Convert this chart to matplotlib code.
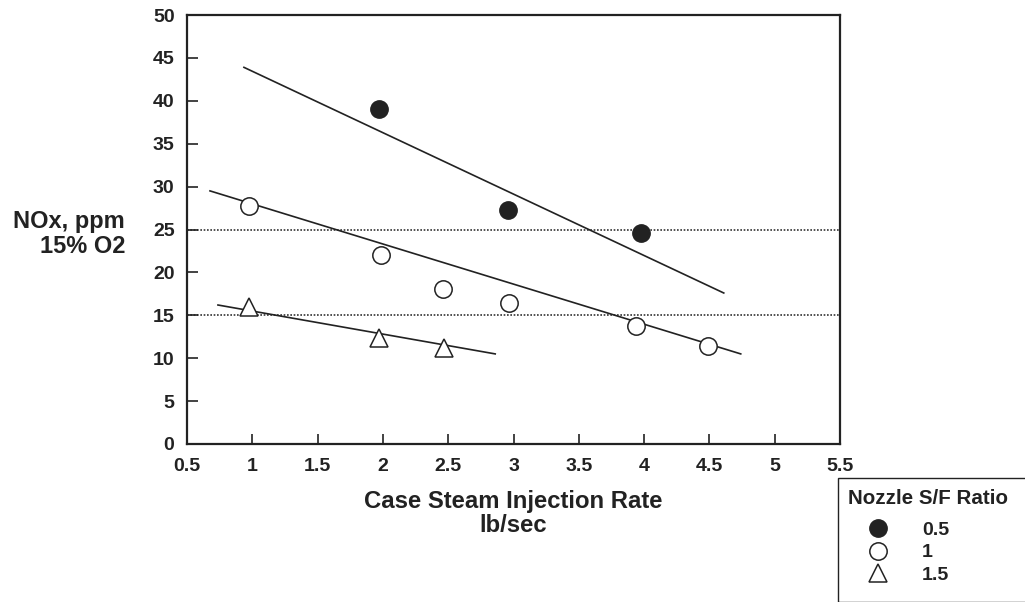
import matplotlib
matplotlib.use("Agg")
import matplotlib.pyplot as plt
from matplotlib.patches import Rectangle

plt.rcParams['font.family'] = ['Liberation Sans', 'DejaVu Sans']
plt.rcParams['font.weight'] = 'bold'

# ---- data ----
x_05 = [1.97, 2.96, 3.98]
y_05 = [39.0, 27.3, 24.6]
x_10 = [0.975, 1.985, 2.46, 2.965, 3.94, 4.49]
y_10 = [27.7, 22.0, 18.1, 16.4, 13.75, 11.4]
x_15 = [0.975, 1.97, 2.47]
y_15 = [16.0, 12.35, 11.2]

fit_x_05 = [0.936, 4.61]
fit_y_05 = [43.9, 17.6]
fit_x_10 = [0.676, 4.74]
fit_y_10 = [29.5, 10.5]
fit_x_15 = [0.737, 2.86]
fit_y_15 = [16.2, 10.5]

ref_levels = [25, 15]

x_ticks = [0.5, 1, 1.5, 2, 2.5, 3, 3.5, 4, 4.5, 5, 5.5]
x_ticklabels = ['0.5', '1', '1.5', '2', '2.5', '3', '3.5', '4', '4.5', '5', '5.5']
y_ticks = [0, 5, 10, 15, 20, 25, 30, 35, 40, 45, 50]

legend_title = 'Nozzle S/F Ratio'
labels = ['0.5', '1', '1.5']

ink = '#222222'

fig = plt.figure(figsize=(10.25, 6.02), dpi=100)
W, H = 1025, 602
ax = fig.add_axes([187 / W, 1 - 444 / H, (840 - 187) / W, (444 - 15) / H])

for lvl in ref_levels:
    ax.axhline(lvl, color='#333333', lw=1.2, ls=(0, (1, 1)), zorder=1)

ax.plot(fit_x_05, fit_y_05, color=ink, lw=1.2, zorder=2)
ax.plot(fit_x_10, fit_y_10, color=ink, lw=1.2, zorder=2)
ax.plot(fit_x_15, fit_y_15, color=ink, lw=1.2, zorder=2)

h1, = ax.plot(x_05, y_05, 'o', ms=12.5, color=ink, mec=ink, ls='none', zorder=3)
h2, = ax.plot(x_10, y_10, 'o', ms=12.5, mfc='white', mec=ink, mew=1.1, ls='none', zorder=3)
h3, = ax.plot(x_15, y_15, '^', ms=12.5, mfc='white', mec=ink, mew=1.1, ls='none', zorder=3)

ax.set_xlim(0.5, 5.5)
ax.set_ylim(0, 50)
ax.set_xticks(x_ticks)
ax.set_xticklabels(x_ticklabels)
ax.set_yticks(y_ticks)

for s in ax.spines.values():
    s.set_linewidth(1.6)
    s.set_color(ink)

ax.tick_params(axis='both', direction='in', color=ink, width=1.2,
               labelsize=14, labelcolor=ink)
ax.tick_params(axis='x', length=7, pad=10)
ax.tick_params(axis='y', length=8, pad=9)
for t in ax.get_xticklabels() + ax.get_yticklabels():
    t.set_fontweight('bold')

ax.set_xlabel('Case Steam Injection Rate\nlb/sec', fontsize=17.2, fontweight='bold',
              color=ink, labelpad=11, linespacing=1.05)

fig.text(125 / W, 1 - 234 / H, 'NOx, ppm\n15% O2', ha='right', va='center',
         multialignment='right', fontsize=17, fontweight='bold', color=ink,
         linespacing=1.1)

# legend box
rect = Rectangle((838 / W, 0), 1.0, 1 - 478 / H, transform=fig.transFigure,
                 fill=False, edgecolor=ink, lw=1.0, clip_on=False)
fig.add_artist(rect)

leg = fig.legend([h1, h2, h3], labels, title=legend_title,
                 loc='upper left', bbox_to_anchor=(834 / W, 1 - 475 / H),
                 frameon=False, fontsize=14, title_fontsize=14.8,
                 handletextpad=0.72, labelspacing=0.24, borderpad=0.2,
                 handlelength=3.1, alignment='left')
leg.get_title().set_fontweight('bold')
leg.get_title().set_color(ink)
leg._legend_box.sep = 10
for t in leg.get_texts():
    t.set_fontweight('bold')
    t.set_color(ink)

fig.savefig('out.png', dpi=100)
